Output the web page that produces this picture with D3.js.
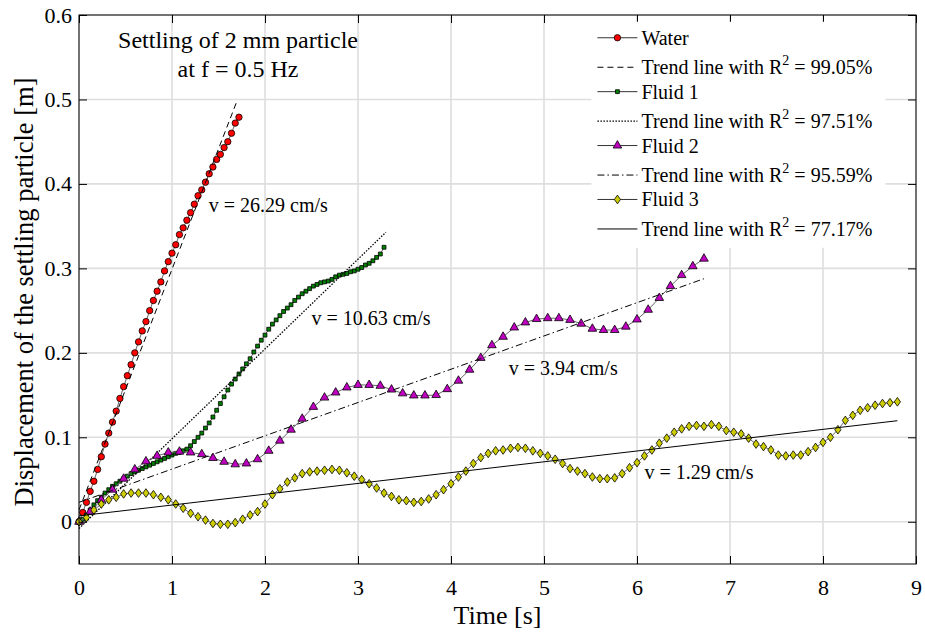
<!DOCTYPE html>
<html>
<head>
<meta charset="utf-8">
<script src="https://cdn.jsdelivr.net/npm/d3@7"></script>
<style>
	body { margin: 0; background: #fff; }
	text { font-family: "Liberation Serif", "Times New Roman", serif; fill: #000; }
</style>
</head>
<body>
<div id="chart" style="width:925px;height:632px;"></div>
<script>

// SAMPLE SPACING [s] OF EACH MEASURED SERIES
var waterStep = 0.04,
	fluid1Step = 0.04,
	fluid2Step = 0.12,
	fluid3Step = 0.08;

// DISPLACEMENT [m], ONE VALUE PER SAMPLE
var waterDisp = [0, 0.011, 0.023, 0.036, 0.048, 0.062, 0.077, 0.092, 0.105, 0.118,
	0.131, 0.146, 0.160, 0.173, 0.186, 0.200, 0.213, 0.226, 0.237, 0.250,
	0.262, 0.273, 0.284, 0.297, 0.308, 0.318, 0.328, 0.340, 0.348, 0.357,
	0.366, 0.376, 0.386, 0.393, 0.402, 0.412, 0.420, 0.429, 0.435, 0.443,
	0.450, 0.460, 0.472, 0.479];

var fluid1Disp = [0, 0.003, 0.008, 0.014, 0.020, 0.025, 0.029, 0.034, 0.038, 0.042,
	0.045, 0.048, 0.051, 0.054, 0.057, 0.059, 0.061, 0.063, 0.065, 0.067,
	0.069, 0.071, 0.073, 0.075, 0.077, 0.079, 0.081, 0.082, 0.084, 0.086,
	0.090, 0.095, 0.100, 0.105, 0.111, 0.117, 0.124, 0.132, 0.140, 0.148,
	0.156, 0.163, 0.169, 0.175, 0.181, 0.187, 0.193, 0.201, 0.208, 0.215,
	0.221, 0.228, 0.234, 0.239, 0.244, 0.249, 0.253, 0.257, 0.262, 0.266,
	0.270, 0.273, 0.276, 0.279, 0.281, 0.283, 0.284, 0.285, 0.287, 0.290,
	0.292, 0.293, 0.294, 0.296, 0.297, 0.299, 0.301, 0.304, 0.306, 0.309,
	0.313, 0.317, 0.325];

var fluid2Disp = [0, 0.012, 0.026, 0.038, 0.051, 0.062, 0.0715, 0.078, 0.082, 0.083,
	0.082, 0.080, 0.0755, 0.071, 0.068, 0.069, 0.074, 0.084, 0.096, 0.109,
	0.122, 0.136, 0.147, 0.153, 0.159, 0.162, 0.162, 0.161, 0.1565, 0.152,
	0.1495, 0.1495, 0.150, 0.157, 0.167, 0.180, 0.194, 0.209, 0.219, 0.230,
	0.236, 0.240, 0.241, 0.241, 0.239, 0.2345, 0.2285, 0.227, 0.227, 0.231,
	0.2395, 0.251, 0.265, 0.279, 0.292, 0.3025, 0.3115];

var fluid3Disp = [0, 0.005, 0.014, 0.021, 0.026, 0.029, 0.033, 0.034, 0.034, 0.034,
	0.032, 0.029, 0.026, 0.021, 0.016, 0.010, 0.006, 0.002, -0.002, -0.003,
	-0.003, -0.001, 0.003, 0.008, 0.012, 0.021, 0.032, 0.039, 0.047, 0.052,
	0.057, 0.059, 0.060, 0.061, 0.062, 0.061, 0.058, 0.054, 0.050, 0.045,
	0.040, 0.034, 0.030, 0.026, 0.025, 0.023, 0.024, 0.027, 0.032, 0.038,
	0.045, 0.053, 0.060, 0.069, 0.076, 0.081, 0.084, 0.085, 0.087, 0.088,
	0.087, 0.084, 0.081, 0.078, 0.074, 0.069, 0.063, 0.060, 0.057, 0.053,
	0.051, 0.051, 0.052, 0.057, 0.064, 0.070, 0.078, 0.085, 0.093, 0.099,
	0.106, 0.110, 0.113, 0.114, 0.113, 0.115, 0.113, 0.108, 0.106, 0.104,
	0.099, 0.092, 0.089, 0.085, 0.079, 0.078, 0.079, 0.079, 0.083, 0.088,
	0.094, 0.100, 0.109, 0.120, 0.126, 0.132, 0.135, 0.138, 0.140, 0.141,
	0.142];

// LINEAR TREND LINES: v = intercept + slope * t, drawn from t = 0 to end
var seriesNames = ['Water', 'Fluid 1', 'Fluid 2', 'Fluid 3'];
var trendR2 = ['99.05%', '97.51%', '95.59%', '77.17%'];
var trendSlope = [0.285, 0.1063, 0.0394, 0.0128];
var trendIntercept = [0.014, -0.008, 0.023, 0.007];
var trendEnd = [1.70, 3.30, 6.72, 8.80];
var velocityLabels = ['v = 26.29 cm/s', 'v = 10.63 cm/s', 'v = 3.94 cm/s', 'v = 1.29 cm/s'];

var xTicks = [0, 1, 2, 3, 4, 5, 6, 7, 8, 9];
var yTicks = [0, 0.1, 0.2, 0.3, 0.4, 0.5, 0.6];
var titleLines = ['Settling of 2 mm particle', 'at f = 0.5 Hz'];

var serif = '"Liberation Serif", "Times New Roman", serif';


function drawChart(container){

	var width = 925,
		height = 632;

	var margin = {
		top: 15,
		right: 9,
		bottom: 68,
		left: 79,
	}
	var innerWidth = width - margin.left - margin.right,
		innerHeight = height - margin.top - margin.bottom;

	var svg = d3.select(container)
		.append('svg')
			.attr('width', width)
			.attr('height', height)
			.attr('font-family', serif)
			.style('background', '#fff');

	var chartInner = svg.append('g')
		.attr('transform', `translate(${margin.left},${margin.top})`);

	// TIME
	var x = d3.scaleLinear()
		.domain([0, 9])
		.range([0, innerWidth]);

	// DISPLACEMENT
	var y = d3.scaleLinear()
		.domain([-0.05, 0.6])
		.range([innerHeight, 0]);

	// GRID
	var grid = chartInner.append('g').attr('class', 'grid');
	grid.selectAll('.gx')
		.data(xTicks)
		.enter().append('line')
			.attr('x1', d => x(d)).attr('x2', d => x(d))
			.attr('y1', 0).attr('y2', innerHeight)
			.style('stroke', '#dedede')
			.style('stroke-width', 1.6);
	grid.selectAll('.gy')
		.data(yTicks)
		.enter().append('line')
			.attr('x1', 0).attr('x2', innerWidth)
			.attr('y1', d => y(d)).attr('y2', d => y(d))
			.style('stroke', '#dedede')
			.style('stroke-width', 1.6);

	// SERIES
	var series = [
		{ disp: waterDisp, step: waterStep, fill: '#ff0000', marker: 'circle' },
		{ disp: fluid1Disp, step: fluid1Step, fill: '#008000', marker: 'square' },
		{ disp: fluid2Disp, step: fluid2Step, fill: '#c000c0', marker: 'triangle' },
		{ disp: fluid3Disp, step: fluid3Step, fill: '#cccc00', marker: 'diamond' },
	];
	var trendDash = ['6,4', '1.5,1.5', '7,3,1.5,3', null];

	// matlab style diamond, a bit wider than d3's
	var wideDiamond = {
		draw: function(context, size){
			var h = Math.sqrt(size) * 0.72, w = h * 0.72;
			context.moveTo(0, -h);
			context.lineTo(w, 0);
			context.lineTo(0, h);
			context.lineTo(-w, 0);
			context.closePath();
		}
	};

	function markerPath(type){
		if (type == 'circle') return d3.symbol().type(d3.symbolCircle).size(32)();
		if (type == 'square') return d3.symbol().type(d3.symbolSquare).size(15)();
		if (type == 'triangle') return d3.symbol().type(d3.symbolTriangle).size(32)();
		return d3.symbol().type(wideDiamond).size(36)();
	}

	series.forEach(function(s, k){
		var pts = s.disp.map((d, i) => [x(i * s.step), y(d)]);

		chartInner.append('path')
			.datum(pts)
			.attr('d', d3.line())
			.style('fill', 'none')
			.style('stroke', '#666')
			.style('stroke-width', 1);

		chartInner.append('g')
			.selectAll('path')
			.data(pts)
			.enter().append('path')
				.attr('d', markerPath(s.marker))
				.attr('transform', d => `translate(${d[0]},${d[1]})`)
				.style('fill', s.fill)
				.style('stroke', '#000')
				.style('stroke-width', 0.8);

		var trend = [0, trendEnd[k]].map(t => [x(t), y(trendIntercept[k] + trendSlope[k] * t)]);
		chartInner.append('path')
			.datum(trend)
			.attr('d', d3.line())
			.style('fill', 'none')
			.style('stroke', '#000')
			.style('stroke-width', k == 1 ? 1.3 : 1)
			.style('stroke-dasharray', trendDash[k]);
	});

	// AXES, ticks pointing inwards on all four sides
	chartInner.append('g')
		.attr('transform', `translate(0,${innerHeight})`)
		.call(d3.axisBottom(x).tickValues(xTicks).tickSizeInner(-8).tickSizeOuter(0).tickPadding(15));
	chartInner.append('g')
		.call(d3.axisLeft(y).tickValues(yTicks).tickSizeInner(-8).tickSizeOuter(0).tickPadding(7)
			.tickFormat(d => d == 0 ? '0' : d3.format('.1f')(d)));
	chartInner.append('g')
		.call(d3.axisTop(x).tickValues(xTicks).tickSizeInner(-8).tickSizeOuter(0).tickFormat(''));
	chartInner.append('g')
		.attr('transform', `translate(${innerWidth},0)`)
		.call(d3.axisRight(y).tickValues(yTicks).tickSizeInner(-8).tickSizeOuter(0).tickFormat(''));

	chartInner.selectAll('.domain').remove();
	chartInner.selectAll('.tick line').style('stroke', '#000');
	chartInner.selectAll('.tick').selectAll('text')
		.attr('font-family', serif)
		.style('font-family', serif)
		.style('font-size', '22px')
		.style('fill', '#000');

	// LEGEND (white box, no border)
	var legend = chartInner.append('g')
		.attr('transform', `translate(${x(5.51)},${y(0.592)})`);
	legend.append('rect')
		.attr('width', 294)
		.attr('height', 226)
		.style('fill', '#fff');

	series.forEach(function(s, k){
		var rowY = 16 + 53.9 * k;
		var g = legend.append('g').attr('transform', `translate(0,${rowY})`);
		g.append('line')
			.attr('x1', 6).attr('x2', 46)
			.style('stroke', '#333').style('stroke-width', 1);
		g.append('path')
			.attr('d', markerPath(s.marker))
			.attr('transform', 'translate(26,0)')
			.style('fill', s.fill)
			.style('stroke', '#000')
			.style('stroke-width', 0.8);
		g.append('text')
			.attr('x', 50).attr('y', 7)
			.style('font-size', '20px')
			.text(seriesNames[k]);

		var t = legend.append('g').attr('transform', `translate(0,${rowY + 29.5})`);
		t.append('line')
			.attr('x1', 6).attr('x2', 46)
			.style('stroke', '#000').style('stroke-width', k == 1 ? 1.3 : 1)
			.style('stroke-dasharray', trendDash[k]);
		var tt = t.append('text')
			.attr('x', 50).attr('y', 7)
			.style('font-size', '20px');
		tt.append('tspan').text('Trend line with R');
		tt.append('tspan').attr('dy', -9).style('font-size', '14px').text('2');
		tt.append('tspan').attr('dy', 9).text(' = ' + trendR2[k]);
	});

	// VELOCITY ANNOTATIONS
	var velocityAt = [[1.395, 0.367], [2.50, 0.233], [4.62, 0.174], [6.08, 0.051]];
	chartInner.selectAll('.vlabel')
		.data(velocityLabels)
		.enter().append('text')
			.attr('x', (d, i) => x(velocityAt[i][0]))
			.attr('y', (d, i) => y(velocityAt[i][1]))
			.style('font-size', '20px')
			.text(d => d);

	// TITLE INSIDE THE PLOT
	chartInner.selectAll('.title')
		.data(titleLines)
		.enter().append('text')
			.attr('x', x(1.71))
			.attr('y', (d, i) => y(0.561 - i * 0.034))
			.attr('text-anchor', 'middle')
			.style('font-size', '24px')
			.text(d => d);

	// FRAME
	chartInner.append('rect')
		.attr('width', innerWidth)
		.attr('height', innerHeight)
		.style('fill', 'none')
		.style('stroke', '#000')
		.style('stroke-width', 1);

	// AXIS LABELS
	svg.append('text')
		.attr('x', margin.left + innerWidth / 2)
		.attr('y', 624)
		.attr('text-anchor', 'middle')
		.style('font-size', '26px')
		.text('Time [s]');
	svg.append('text')
		.attr('transform', `translate(33,292) rotate(-90)`)
		.attr('text-anchor', 'middle')
		.style('font-size', '26.5px')
		.text('Displacement of the settling particle [m]');
}

drawChart('#chart');
</script>
</body>
</html>
